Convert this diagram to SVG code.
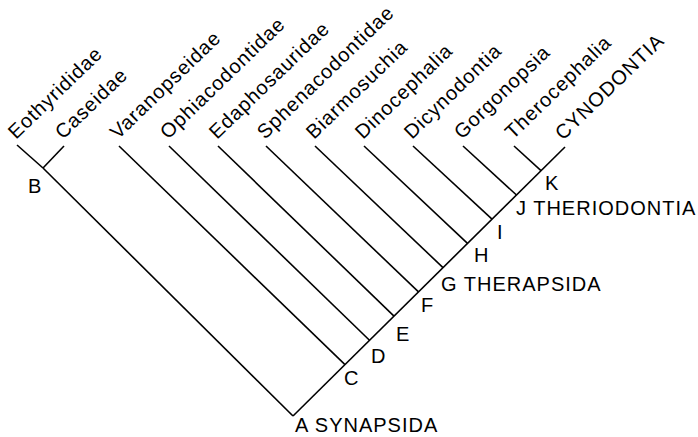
<svg xmlns="http://www.w3.org/2000/svg" width="698" height="437" viewBox="0 0 698 437">
<style>
.ln{stroke:#000;stroke-width:1.6;fill:none;stroke-linecap:butt}
text{font-family:"Liberation Sans",Arial,sans-serif;font-size:20px;fill:#000;letter-spacing:1px}
.tx text{letter-spacing:0.9px}
</style>
<rect width="698" height="437" fill="#fff"/>
<g id="connectors">
<path class="ln" d="M293 416 L565 147"/>
<path class="ln" d="M293 416 L43 168"/>
<path class="ln" d="M43 168 L17 145"/>
<path class="ln" d="M43 168 L64 146"/>
<path class="ln" d="M345 364.6 L119 146"/>
<path class="ln" d="M369.5 340.3 L169 146"/>
<path class="ln" d="M394 316.1 L218 146"/>
<path class="ln" d="M418.5 291.9 L266 146"/>
<path class="ln" d="M443 267.6 L315 146"/>
<path class="ln" d="M467.5 243.4 L364 146"/>
<path class="ln" d="M492 219.2 L413 146"/>
<path class="ln" d="M516.5 195 L463 146"/>
<path class="ln" d="M541 170.7 L514 146"/>
</g>
<g class="tx">
<g id="t-eothyrididae"><text transform="translate(16,140) rotate(-44)">Eothyrididae</text></g>
<g id="t-caseidae"><text transform="translate(63,140) rotate(-44)">Caseidae</text></g>
<g id="t-varanopseidae"><text transform="translate(118,140) rotate(-44)">Varanopseidae</text></g>
<g id="t-ophiacodontidae"><text transform="translate(168,140) rotate(-44)">Ophiacodontidae</text></g>
<g id="t-edaphosauridae"><text transform="translate(217,140) rotate(-44)">Edaphosauridae</text></g>
<g id="t-sphenacodontidae"><text transform="translate(265,140) rotate(-44)">Sphenacodontidae</text></g>
<g id="t-biarmosuchia"><text transform="translate(314,140) rotate(-44)">Biarmosuchia</text></g>
<g id="t-dinocephalia"><text transform="translate(363,140) rotate(-44)">Dinocephalia</text></g>
<g id="t-dicynodontia"><text transform="translate(412,140) rotate(-44)">Dicynodontia</text></g>
<g id="t-gorgonopsia"><text transform="translate(462,140) rotate(-44)">Gorgonopsia</text></g>
<g id="t-therocephalia"><text transform="translate(513,140) rotate(-44)">Therocephalia</text></g>
<g id="t-cynodontia"><text transform="translate(563,141) rotate(-44)">CYNODONTIA</text></g>
</g>
<g id="node-A"><text x="295" y="432">A SYNAPSIDA</text></g>
<g id="node-B"><text x="28" y="193">B</text></g>
<g id="node-C"><text x="344" y="385">C</text></g>
<g id="node-D"><text x="371" y="363">D</text></g>
<g id="node-E"><text x="396" y="341">E</text></g>
<g id="node-F"><text x="421" y="312">F</text></g>
<g id="node-G"><text x="441" y="291">G THERAPSIDA</text></g>
<g id="node-H"><text x="474" y="262">H</text></g>
<g id="node-I"><text x="497" y="239">I</text></g>
<g id="node-J"><text x="516" y="215">J THERIODONTIA</text></g>
<g id="node-K"><text x="545" y="190">K</text></g>
</svg>
